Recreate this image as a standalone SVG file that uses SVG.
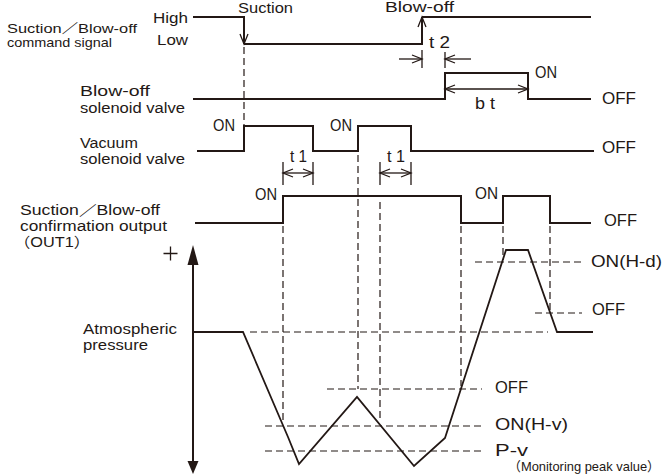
<svg xmlns="http://www.w3.org/2000/svg" width="664" height="475" viewBox="0 0 664 475">
<defs>
<style>
.sig{fill:none;stroke:#231815;stroke-width:2;stroke-linejoin:miter}
.dim{fill:none;stroke:#231815;stroke-width:1.3}
.dash{fill:none;stroke:#231815;stroke-width:1.2;stroke-dasharray:7 4}
.curve{fill:none;stroke:#231815;stroke-width:1.8;stroke-linejoin:miter}
.lbl{font-family:"Liberation Sans","Noto Sans CJK JP",sans-serif;font-size:14px;fill:#231815}
.s13{font-size:13px}
.s15{font-size:15px}
.st{font-family:"Liberation Sans","Noto Sans CJK JP",sans-serif;font-size:17px;fill:#231815}
</style>
<marker id="oa" viewBox="0 0 10 8" refX="10" refY="4" markerWidth="10" markerHeight="8" markerUnits="userSpaceOnUse" orient="auto-start-reverse" overflow="visible">
<path d="M0,0 L10,4 L0,8" fill="none" stroke="#231815" stroke-width="1.3"/>
</marker>
</defs>
<rect width="664" height="475" fill="#ffffff"/>

<g id="command-signal">
<path class="sig" d="M193,17 H244 V44" marker-end="url(#oa)"/>
<path class="sig" d="M244,44 H422 V17" marker-end="url(#oa)"/>
<path class="sig" d="M422,17 H591"/>
<text class="lbl s13" x="7" y="33" textLength="130" lengthAdjust="spacingAndGlyphs">Suction／Blow-off</text>
<text class="lbl s13" x="7" y="47" textLength="105" lengthAdjust="spacingAndGlyphs">command signal</text>
<text class="lbl s15" x="153" y="23" textLength="35" lengthAdjust="spacingAndGlyphs">High</text>
<text class="lbl s15" x="157" y="45" textLength="31" lengthAdjust="spacingAndGlyphs">Low</text>
<text class="lbl" x="238" y="13" textLength="55" lengthAdjust="spacingAndGlyphs">Suction</text>
<text class="lbl" x="385" y="12" textLength="69" lengthAdjust="spacingAndGlyphs">Blow-off</text>
</g>

<g id="blowoff-valve">
<path class="sig" d="M193,99 H445 V73 H528 V99 H591"/>
<text class="lbl" x="80" y="96" textLength="70" lengthAdjust="spacingAndGlyphs">Blow-off</text>
<text class="lbl" x="80" y="113" textLength="105" lengthAdjust="spacingAndGlyphs">solenoid valve</text>
<text class="st" x="535" y="78" textLength="22" lengthAdjust="spacingAndGlyphs">ON</text>
<text class="st" x="602" y="104" textLength="34" lengthAdjust="spacingAndGlyphs">OFF</text>
</g>

<g id="vacuum-valve">
<path class="sig" d="M197,151 H244 V126 H313 V151 H358 V126 H411 V151 H594"/>
<text class="lbl" x="80" y="148" textLength="58" lengthAdjust="spacingAndGlyphs">Vacuum</text>
<text class="lbl" x="80" y="164" textLength="105" lengthAdjust="spacingAndGlyphs">solenoid valve</text>
<text class="st" x="213" y="131" textLength="22" lengthAdjust="spacingAndGlyphs">ON</text>
<text class="st" x="330" y="131" textLength="22" lengthAdjust="spacingAndGlyphs">ON</text>
<text class="st" x="602" y="153" textLength="34" lengthAdjust="spacingAndGlyphs">OFF</text>
</g>

<g id="confirmation-output">
<path class="sig" d="M195,223 H283 V196 H461 V223 H503 V196 H550 V223 H591"/>
<text class="lbl" x="20" y="215" textLength="140" lengthAdjust="spacingAndGlyphs">Suction／Blow-off</text>
<text class="lbl" x="20" y="231" textLength="147" lengthAdjust="spacingAndGlyphs">confirmation output</text>
<text class="lbl" x="14" y="247" textLength="76" lengthAdjust="spacingAndGlyphs">（OUT1）</text>
<text class="st" x="255" y="200" textLength="22" lengthAdjust="spacingAndGlyphs">ON</text>
<text class="st" x="475" y="199" textLength="23" lengthAdjust="spacingAndGlyphs">ON</text>
<text class="st" x="604" y="226" textLength="33" lengthAdjust="spacingAndGlyphs">OFF</text>
</g>

<g id="pressure">
<line class="sig" x1="193" y1="262" x2="193" y2="462"/>
<polygon points="193,245 187.5,265 198.5,265" fill="#231815"/>
<polygon points="193,474 187.5,461 198.5,461" fill="#231815"/>
<path d="M163.5,253.5 H177.5 M170.5,246.5 V260.5" fill="none" stroke="#231815" stroke-width="1.3"/>
<text class="lbl" x="83" y="334" textLength="94" lengthAdjust="spacingAndGlyphs">Atmospheric</text>
<text class="lbl" x="83" y="350" textLength="65" lengthAdjust="spacingAndGlyphs">pressure</text>
<path class="curve" d="M193,332 H243 L288,437 L299,464 L357,397 L414,466 L445,438 L506,250 H528 L557,332 H593"/>
<text class="st" x="591" y="267" textLength="71" lengthAdjust="spacingAndGlyphs">ON(H-d)</text>
<text class="st" x="592" y="315" textLength="33" lengthAdjust="spacingAndGlyphs">OFF</text>
<text class="st" x="495" y="393" textLength="33" lengthAdjust="spacingAndGlyphs">OFF</text>
<text class="st" x="495" y="430" textLength="73" lengthAdjust="spacingAndGlyphs">ON(H-v)</text>
<text class="st" x="495" y="456" textLength="33" lengthAdjust="spacingAndGlyphs">P-v</text>
<text class="lbl s13" x="508" y="471" textLength="152" lengthAdjust="spacingAndGlyphs">（Monitoring peak value）</text>
</g>

<g id="dimensions">
<line class="dim" x1="422" y1="50" x2="422" y2="68"/>
<line class="dim" x1="445" y1="52" x2="445" y2="68"/>
<line class="dim" x1="399" y1="59" x2="422" y2="59" marker-end="url(#oa)"/>
<line class="dim" x1="471" y1="59" x2="445" y2="59" marker-end="url(#oa)"/>
<text class="st" x="429" y="48" textLength="21" lengthAdjust="spacingAndGlyphs">t 2</text>
<line class="dim" x1="445" y1="89" x2="528" y2="89" marker-start="url(#oa)" marker-end="url(#oa)"/>
<text class="st" x="475" y="109" textLength="20" lengthAdjust="spacingAndGlyphs">b t</text>
<line class="dim" x1="283" y1="162" x2="283" y2="185"/>
<line class="dim" x1="313" y1="162" x2="313" y2="185"/>
<line class="dim" x1="283" y1="173" x2="313" y2="173" marker-start="url(#oa)" marker-end="url(#oa)"/>
<text class="st" x="290" y="162" textLength="17" lengthAdjust="spacingAndGlyphs">t 1</text>
<line class="dim" x1="380" y1="162" x2="380" y2="185"/>
<line class="dim" x1="411" y1="162" x2="411" y2="185"/>
<line class="dim" x1="380" y1="173" x2="411" y2="173" marker-start="url(#oa)" marker-end="url(#oa)"/>
<text class="st" x="387" y="162" textLength="18" lengthAdjust="spacingAndGlyphs">t 1</text>
</g>

<g id="connectors">
<line class="dash" x1="244" y1="47" x2="244" y2="125"/>
<line class="dash" x1="283" y1="226" x2="283" y2="424"/>
<line class="dash" x1="358" y1="155" x2="358" y2="389"/>
<line class="dash" x1="380" y1="202" x2="380" y2="422"/>
<line class="dash" x1="461" y1="226" x2="461" y2="386"/>
<line class="dash" x1="503" y1="226" x2="503" y2="260"/>
<line class="dash" x1="550" y1="226" x2="550" y2="313"/>
<line class="dash" x1="475" y1="262" x2="585" y2="262"/>
<line class="dash" x1="535" y1="313" x2="582" y2="313"/>
<line class="dash" x1="250" y1="332" x2="548" y2="332"/>
<line class="dash" x1="327" y1="389" x2="482" y2="389"/>
<line class="dash" x1="265" y1="426" x2="482" y2="426"/>
<line class="dash" x1="265" y1="451" x2="482" y2="451"/>
</g>
</svg>
